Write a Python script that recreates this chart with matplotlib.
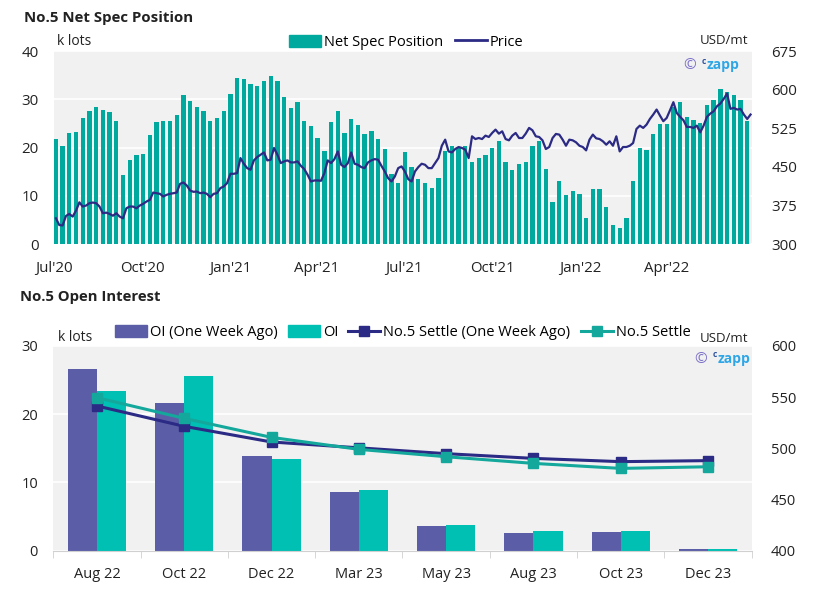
#!/usr/bin/env python3

import pandas as pd
import matplotlib
matplotlib.use("Agg")
from matplotlib import pyplot as plt
from matplotlib.patches import Patch
from matplotlib.lines import Line2D

plt.rcParams['font.family'] = ['Open Sans', 'DejaVu Sans']
plt.rcParams['font.size'] = 10

# ---------------- data: net spec position (weekly, k lots) ----------------
SPEC_START = '2020-07-03'
net_spec = [21.7, 20.4, 23.1, 23.3, 26.2, 27.5, 28.3, 27.7, 27.3, 25.4,
            14.4, 17.5, 18.5, 18.7, 22.7, 25.2, 25.6, 25.6, 26.7, 30.8,
            29.6, 28.3, 27.5, 25.6, 26.2, 27.5, 31.0, 34.5, 34.3, 33.1,
            32.7, 33.7, 34.9, 33.7, 30.4, 28.1, 29.4, 25.6, 24.4, 21.9,
            19.2, 25.2, 27.5, 23.1, 26.0, 24.6, 22.9, 23.5, 21.7, 19.6,
            14.6, 12.7, 19.0, 16.0, 13.5, 12.7, 11.7, 13.75, 19.2, 20.4,
            19.8, 20.4, 16.9, 17.9, 18.5, 20.0, 21.25, 17.1, 15.4, 16.5,
            16.9, 20.4, 21.25, 15.6, 8.75, 13.1, 10.2, 11.0, 10.4, 5.4,
            11.5, 11.5, 7.7, 4.0, 3.3, 5.4, 13.1, 19.8, 19.4, 22.9,
            24.8, 24.8, 28.3, 29.4, 26.25, 25.8, 25.0, 28.75, 29.8, 32.1,
            31.5, 30.8, 29.8, 25.6]

# price, USD/mt, one reading every half week
PRICE_START = '2020-07-03'
price = [350, 337, 336, 354.6, 358.5, 353.3, 365, 381, 372.8, 374.8,
         379.3, 380.6, 379.3, 372.8, 359.8, 361, 358.5, 355, 359.8, 353.3,
         350, 369.5, 372.8, 372.8, 369.5, 374.8, 378, 382.6, 385.8, 400,
         398.8, 397.5, 392.3, 395.6, 397.5, 398.8, 400, 417, 419.6, 413.8,
         404, 401.4, 402, 398.8, 400, 397.5, 391, 397.5, 398.8, 408.6,
         411.8, 418.3, 436.5, 436.5, 437.8, 467, 456, 447.5, 444.3, 462.5,
         469, 473.6, 478, 462.5, 463.8, 486.6, 473.6, 457.3, 460.6, 462.5,
         458.6, 458.6, 460.6, 452, 445.6, 434.6, 421.5, 423.5, 423.5, 422.9,
         437.8, 462.5, 457.3, 465, 480, 454, 449.5, 457.3, 478, 456,
         454, 449.5, 447.5, 458.6, 462.5, 465, 463.8, 452, 441, 428,
         421.5, 431.3, 447.5, 450.8, 441, 426, 421.5, 441, 449.5, 456,
         454, 447.5, 447.5, 457.3, 467, 491, 502.8, 480, 478, 484.6,
         488.5, 486.6, 483.3, 467, 509.3, 504, 506, 504, 510.6, 508,
         515.8, 522.3, 514.5, 519, 504, 501.5, 510.6, 515.8, 506, 506,
         514.5, 525.6, 521, 509.3, 508, 501.5, 484.6, 488.5, 506, 513.9,
         512.6, 502.8, 491, 502.8, 501.5, 497.6, 491, 488.5, 482, 502.8,
         512.6, 505.4, 504, 499.6, 493, 499.6, 491, 509.3, 480, 488.5,
         488.5, 491, 496.3, 523.6, 530, 525.6, 532, 543, 551.6, 561.3,
         549.6, 538.6, 545, 560, 575.6, 554.8, 547, 540.5, 527.5, 527.5,
         525.6, 530, 517, 530, 547, 553.5, 558, 567.8, 573, 582,
         592.5, 562.6, 564.6, 561.3, 562.6, 551.6, 543, 551.6]

top_ticks = ['2020-07-01', '2020-10-01', '2021-01-01', '2021-04-01',
             '2021-07-01', '2021-10-01', '2022-01-01', '2022-04-01']
top_tick_labels = ["Jul'20", "Oct'20", "Jan'21", "Apr'21",
                   "Jul'21", "Oct'21", "Jan'22", "Apr'22"]

# ---------------- data: open interest ----------------
contracts = ['Aug 22', 'Oct 22', 'Dec 22', 'Mar 23', 'May 23', 'Aug 23', 'Oct 23', 'Dec 23']
oi_week_ago = [26.6, 21.6, 13.9, 8.6, 3.6, 2.6, 2.7, 0.25]
oi_now = [23.4, 25.6, 13.4, 8.9, 3.75, 2.9, 2.9, 0.25]
settle_week_ago = [541.4, 521.5, 506.2, 500.5, 494.8, 490.2, 487.0, 488.0]
settle_now = [549.5, 529.3, 510.7, 499.0, 491.8, 485.3, 480.4, 482.0]

TEAL = '#00a99d'
NAVY = '#2b2a84'
PURPLE = '#5b5ea6'
OI_TEAL = '#00bfb3'
SETTLE_TEAL = '#14a89c'
BG = '#f1f1f1'
TXT = '#222222'


def watermark(ax, x, y):
    # "(c) czapp" logo text
    ax.text(x, y, '\u00a9', transform=ax.transAxes, color='#7d72c9',
            fontsize=11, ha='left', va='center')
    ax.text(x + 0.026, y + 0.02, 'c', transform=ax.transAxes, color='#2b4fa0',
            fontsize=6, fontweight='bold', ha='left', va='center')
    ax.text(x + 0.033, y, 'zapp', transform=ax.transAxes, color='#2ea6e6',
            fontsize=10, fontweight='bold', ha='left', va='center')


fig = plt.figure(figsize=(8.19, 5.90), dpi=100)

# ================= top chart =================
ax1 = fig.add_axes([0.0659, 0.5864, 0.8523, 0.3271])
ax1.set_facecolor(BG)
spec_dates = pd.date_range(SPEC_START, periods=len(net_spec), freq='7D')
price_dates = pd.date_range(PRICE_START, periods=len(price), freq='84h')

ax1.bar(spec_dates, net_spec, width=4.5, color=TEAL, zorder=2)
ax1.set_ylim(0, 40)
ax1.set_yticks([0, 10, 20, 30, 40])
ax1.set_xlim(pd.Timestamp('2020-07-01'), pd.Timestamp('2022-06-29'))
ax1.set_xticks(pd.to_datetime(top_ticks))
ax1.set_xticklabels(top_tick_labels)
ax1.grid(axis='y', color='white', linewidth=1.2, zorder=1)
ax1.set_axisbelow(True)

ax1b = ax1.twinx()
ax1b.plot(price_dates, price, color=NAVY, linewidth=1.6, zorder=3)
ax1b.set_ylim(300, 675)
ax1b.set_yticks([300, 375, 450, 525, 600, 675])

for a in (ax1, ax1b):
    for s in a.spines.values():
        s.set_visible(False)
    a.tick_params(length=0, labelsize=10.8, colors=TXT)
ax1.tick_params(axis='y', pad=11)
ax1.tick_params(axis='x', pad=12)
ax1b.tick_params(axis='y', pad=14)

fig.text(24 / 819, 1 - 18 / 590, 'No.5 Net Spec Position', fontsize=10.8,
         fontweight='bold', color=TXT, va='center', ha='left')
ax1.text(0.005, 1.01, 'k lots', transform=ax1.transAxes, fontsize=10,
         color=TXT, ha='left', va='bottom')
ax1.text(0.995, 1.02, 'USD/mt', transform=ax1.transAxes, fontsize=9.5,
         color=TXT, ha='right', va='bottom')
watermark(ax1, 0.902, 0.927)

h1 = [Patch(color=TEAL), Line2D([], [], color=NAVY, linewidth=2)]
ax1.legend(h1, ['Net Spec Position', 'Price'], loc='lower center',
           bbox_to_anchor=(0.505, 0.975), ncol=2, frameon=False, fontsize=10.5,
           handlelength=2.2, handleheight=0.9, handletextpad=0.2,
           columnspacing=0.8, borderaxespad=0)

# ================= bottom chart =================
ax2 = fig.add_axes([0.0651, 0.0666, 0.8527, 0.347])
ax2.set_facecolor(BG)
xs = list(range(len(contracts)))
bw = 0.333
ax2.bar([x - bw / 2 for x in xs], oi_week_ago, width=bw, color=PURPLE, zorder=2)
ax2.bar([x + bw / 2 for x in xs], oi_now, width=bw, color=OI_TEAL, zorder=2)
ax2.set_ylim(0, 30)
ax2.set_yticks([0, 10, 20, 30])
ax2.set_xlim(-0.5, len(contracts) - 0.5)
ax2.set_xticks(xs)
ax2.set_xticklabels(contracts)
ax2.set_xticks([x - 0.5 for x in range(len(contracts) + 1)], minor=True)
ax2.grid(axis='y', color='white', linewidth=1.2, zorder=1)
ax2.set_axisbelow(True)

ax2b = ax2.twinx()
ax2b.plot(xs, settle_week_ago, color=NAVY, linewidth=2.2, marker='s',
          markersize=6.5, zorder=4)
ax2b.plot(xs, settle_now, color=SETTLE_TEAL, linewidth=2.2, marker='s',
          markersize=6.5, zorder=5)
ax2b.set_ylim(400, 600)
ax2b.set_yticks([400, 450, 500, 550, 600])

for a in (ax2, ax2b):
    for s in a.spines.values():
        s.set_visible(False)
    a.tick_params(length=0, labelsize=10.5, colors=TXT)
ax2.spines['bottom'].set_visible(True)
ax2.spines['bottom'].set_color('#d0d0d0')
ax2.tick_params(axis='x', which='minor', length=5, color='#d0d0d0', direction='out')
ax2.tick_params(axis='x', which='major', pad=12)
ax2.tick_params(axis='y', pad=11)
ax2b.tick_params(axis='y', pad=14)

fig.text(20 / 819, 1 - 297 / 590, 'No.5 Open Interest', fontsize=10.7,
         fontweight='bold', color=TXT, va='center', ha='left')
ax2.text(0.006, 1.005, 'k lots', transform=ax2.transAxes, fontsize=10,
         color=TXT, ha='left', va='bottom')
ax2.text(0.995, 1.005, 'USD/mt', transform=ax2.transAxes, fontsize=9.5,
         color=TXT, ha='right', va='bottom')
watermark(ax2, 0.918, 0.936)

h2 = [Patch(color=PURPLE), Patch(color=OI_TEAL),
      Line2D([], [], color=NAVY, linewidth=2.2, marker='s', markersize=6.5),
      Line2D([], [], color=SETTLE_TEAL, linewidth=2.2, marker='s', markersize=6.5)]
ax2.legend(h2, ['OI (One Week Ago)', 'OI', 'No.5 Settle (One Week Ago)', 'No.5 Settle'],
           loc='lower center', bbox_to_anchor=(0.5, 1.0), ncol=4, frameon=False,
           fontsize=10.5, handlelength=2.2, handleheight=0.9, handletextpad=0.2,
           columnspacing=0.7, borderaxespad=0)

fig.savefig('out.png', dpi=100)
